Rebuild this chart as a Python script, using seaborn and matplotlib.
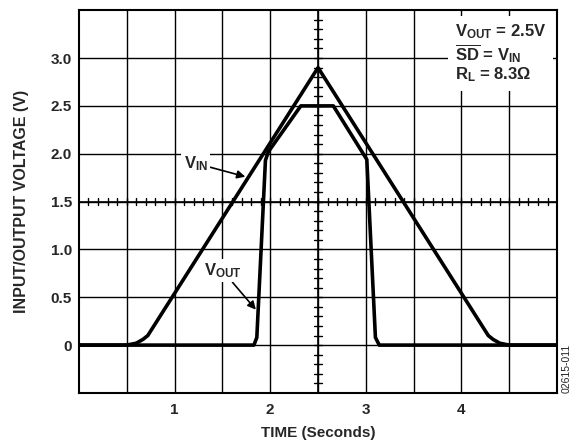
import numpy as np
import pandas as pd
import matplotlib
matplotlib.use("Agg")
import matplotlib.pyplot as plt
import seaborn as sns

# ------------------ Veriler ------------------
t_vin = [0.0, 0.5, 0.6, 0.67, 0.72, 2.5, 4.28, 4.33, 4.4, 4.5, 5.0]
v_in = [0.0, 0.0, 0.02, 0.06, 0.1, 2.9, 0.1, 0.06, 0.02, 0.0, 0.0]

t_vout = [0.0, 1.83, 1.86, 1.95, 1.98, 2.32, 2.66, 3.01, 3.1, 3.14, 5.0]
v_out = [0.0, 0.0, 0.08, 1.93, 2.02, 2.5, 2.5, 1.94, 0.08, 0.0, 0.0]

x_ticks = [1, 2, 3, 4]
y_ticks = [0, 0.5, 1.0, 1.5, 2.0, 2.5, 3.0]
y_tick_labels = ["0", "0.5", "1.0", "1.5", "2.0", "2.5", "3.0"]

sns.set_style("white")
plt.rcParams['font.family'] = ['Liberation Sans', 'DejaVu Sans']
plt.rcParams['font.weight'] = 'bold'
plt.rcParams['mathtext.fontset'] = 'custom'
plt.rcParams['mathtext.rm'] = 'Liberation Sans:bold'
plt.rcParams['mathtext.it'] = 'Liberation Sans:bold'
plt.rcParams['mathtext.bf'] = 'Liberation Sans:bold'

fig = plt.figure(figsize=(5.72, 4.44), dpi=100)
ax = fig.add_axes([0.138, 0.115, 0.836, 0.862])

# grid (oscilloscope style)
for gx in np.arange(0.5, 5.0, 0.5):
    ax.axvline(gx, color='black', lw=1.0, zorder=1)
for gy in np.arange(0.0, 3.5, 0.5):
    ax.axhline(gy, color='black', lw=1.0, zorder=1)
ax.axvline(2.5, color='black', lw=1.2, zorder=1)
ax.axhline(1.5, color='black', lw=1.2, zorder=1)

# center line minor ticks
for mx in np.arange(0.1, 5.0, 0.1):
    ax.plot([mx, mx], [1.46, 1.54], color='black', lw=1.0, zorder=1)
for my in np.arange(-0.4, 3.5, 0.1):
    ax.plot([2.46, 2.54], [my, my], color='black', lw=1.0, zorder=1)

df_in = pd.DataFrame({'t': t_vin, 'v': v_in})
df_out = pd.DataFrame({'t': t_vout, 'v': v_out})
sns.lineplot(data=df_in, x='t', y='v', ax=ax, color='black', lw=2.6,
             estimator=None, sort=False, zorder=3)
sns.lineplot(data=df_out, x='t', y='v', ax=ax, color='black', lw=2.6,
             estimator=None, sort=False, zorder=3)

ax.set_xlim(0, 5)
ax.set_ylim(-0.5, 3.5)
ax.set_xticks(x_ticks)
ax.set_xticklabels([str(x) for x in x_ticks], fontsize=11, fontweight='bold')
ax.set_yticks(y_ticks)
ax.set_yticklabels(y_tick_labels, fontsize=11, fontweight='bold')
ax.tick_params(axis='x', length=0, pad=7)
ax.tick_params(axis='y', length=0, pad=5)
for s in ax.spines.values():
    s.set_linewidth(1.5)
    s.set_color('black')

ax.set_xlabel("TIME (Seconds)", fontsize=11, fontweight='bold', labelpad=7)
ax.set_ylabel("INPUT/OUTPUT VOLTAGE (V)", fontsize=11.5, fontweight='bold', labelpad=16)

# annotations
ax.annotate(r'V$_{\mathrm{IN}}$', xy=(1.74, 1.76), xytext=(1.22, 1.9),
            fontsize=12, ha='center', va='center', zorder=4,
            bbox=dict(boxstyle='square,pad=0.15', fc='white', ec='none'),
            arrowprops=dict(arrowstyle='-|>', color='black', lw=1.2,
                            mutation_scale=12, shrinkA=0, shrinkB=0))
ax.annotate(r'V$_{\mathrm{OUT}}$', xy=(1.85, 0.37), xytext=(1.5, 0.78),
            fontsize=12, ha='center', va='center', zorder=4,
            bbox=dict(boxstyle='square,pad=0.15', fc='white', ec='none'),
            arrowprops=dict(arrowstyle='-|>', color='black', lw=1.2,
                            mutation_scale=12, shrinkA=0, shrinkB=0))

# condition box
box_txt = (r'V$_{\mathrm{OUT}}$ = 2.5V' + '\n' +
           r'$\overline{\mathrm{SD}}$ = V$_{\mathrm{IN}}$' + '\n' +
           r'R$_{\mathrm{L}}$ = 8.3$\Omega$')
ax.text(3.93, 3.37, box_txt, fontsize=12, ha='left', va='top', zorder=5,
        linespacing=1.05,
        bbox=dict(boxstyle='square,pad=0.4', fc='white', ec='none'))

fig.text(0.99, 0.17, "02615-011", rotation=90, fontsize=7.5,
         fontweight='normal', ha='center', va='center')

fig.savefig("out.png", dpi=100)
